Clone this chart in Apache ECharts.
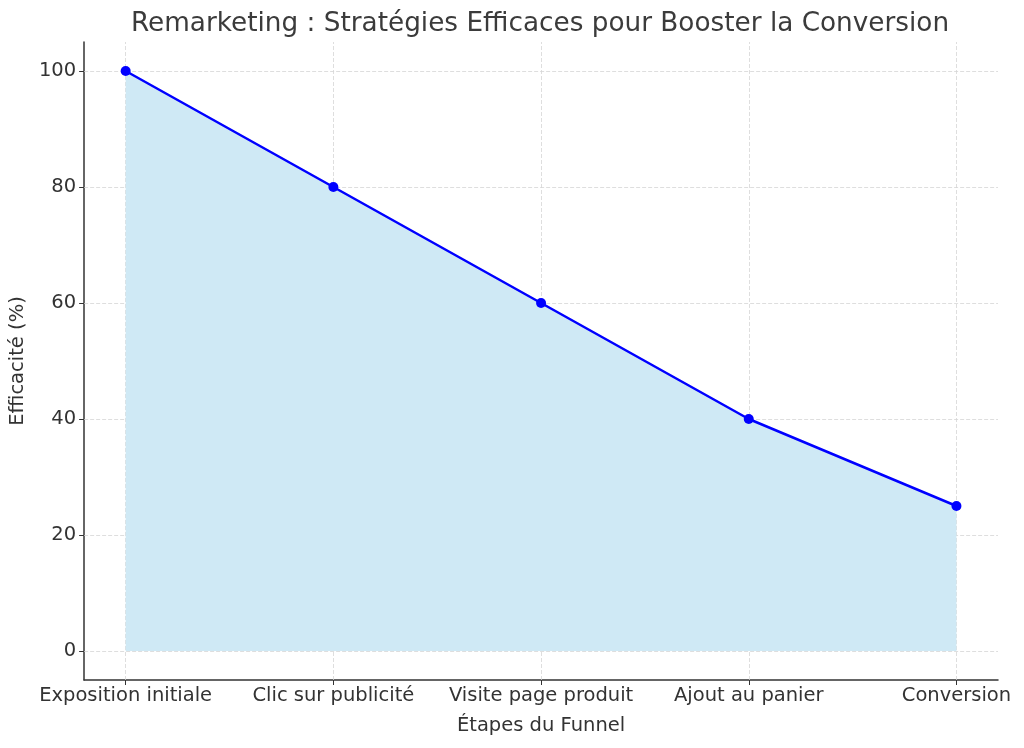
<!DOCTYPE html>
<html>
<head>
<meta charset="utf-8">
<script src="https://cdn.jsdelivr.net/npm/echarts@6/dist/echarts.min.js"></script>
<style>
  html, body { margin: 0; padding: 0; background: #fff; }
  #main { width: 1024px; height: 748px; }
</style>
</head>
<body>
<div id="main"></div>
<script>
var etapes = ['Exposition initiale', 'Clic sur publicité', 'Visite page produit', 'Ajout au panier', 'Conversion'];
var efficacite = [100, 80, 60, 40, 25];
var yTicks = [0, 20, 40, 60, 80, 100];

var positions = etapes.map(function (e, i) { return i; });
var points = efficacite.map(function (v, i) { return [i, v]; });

var font = 'DejaVu Sans';
var dark = '#333333';
var gridLine = { color: '#d6d6d6', type: [4, 2], width: 0.8 };

var option = {
    backgroundColor: '#ffffff',
    animation: false,
    title: {
        text: 'Remarketing : Stratégies Efficaces pour Booster la Conversion',
        left: 535,
        top: 6,
        textAlign: 'center',
        textStyle: { fontFamily: font, fontSize: 26.3, fontWeight: 'normal', color: '#3b3b3b' }
    },
    grid: { left: 81, right: 26, top: 42, bottom: 68 },
    xAxis: {
        type: 'value',
        min: -0.2,
        max: 4.2,
        name: 'Étapes du Funnel',
        nameLocation: 'middle',
        nameGap: 36,
        nameTextStyle: { fontFamily: font, fontSize: 19.5, color: dark },
        axisLine: { show: true, onZero: false, lineStyle: { color: dark, width: 1.5 } },
        axisTick: { show: true, customValues: positions, length: 5, lineStyle: { color: dark } },
        axisLabel: {
            customValues: positions,
            margin: 6,
            fontFamily: font, fontSize: 19.5, color: dark,
            formatter: function (v) { return etapes[Math.round(v)]; }
        },
        splitLine: { show: false }
    },
    yAxis: {
        type: 'value',
        min: -5,
        max: 105,
        name: 'Efficacité (%)',
        nameLocation: 'middle',
        nameGap: 52,
        nameTextStyle: { fontFamily: font, fontSize: 19.5, color: dark },
        axisLine: { show: true, onZero: false, lineStyle: { color: dark, width: 1.5 } },
        axisTick: { show: true, customValues: yTicks, length: 5, lineStyle: { color: dark } },
        axisLabel: { customValues: yTicks, margin: 8, fontFamily: font, fontSize: 19.5, color: dark },
        splitLine: { show: false }
    },
    series: [
        {
            // dashed grid lines at the ticks
            type: 'line',
            data: [],
            markLine: {
                silent: true,
                symbol: 'none',
                label: { show: false },
                lineStyle: gridLine,
                data: positions.map(function (p) { return { xAxis: p }; })
                    .concat(yTicks.map(function (t) { return { yAxis: t }; }))
            }
        },
        {
            type: 'line',
            data: points,
            symbol: 'circle',
            symbolSize: 10,
            lineStyle: { color: '#0000ff', width: 2.5 },
            itemStyle: { color: '#0000ff' },
            areaStyle: { color: '#cfe9f5', opacity: 1, origin: 0 },
            z: 5
        }
    ]
};

var chart = echarts.init(document.getElementById('main'));
chart.setOption(option);
</script>
</body>
</html>
